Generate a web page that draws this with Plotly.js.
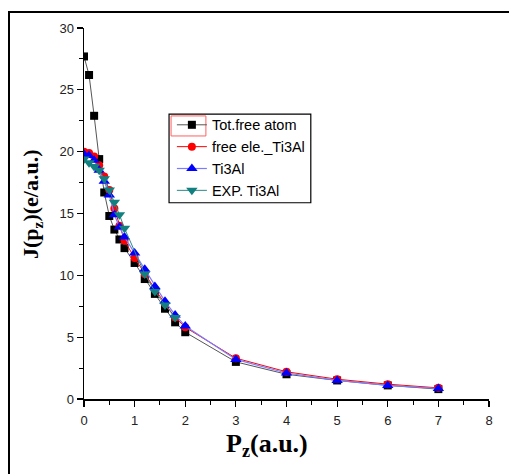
<!DOCTYPE html>
<html>
<head>
<meta charset="utf-8">
<script src="https://cdn.plot.ly/plotly-3.0.1.min.js"></script>
<style>
html,body{margin:0;padding:0;background:#fff;}
#frame{position:absolute;left:8px;top:11px;width:520px;height:480px;border-left:2px solid #000;border-top:2px solid #000;pointer-events:none;z-index:10;}
#chart{position:absolute;left:0;top:0;width:509px;height:474px;}
</style>
</head>
<body>
<div id="chart"></div>
<div id="frame"></div>
<script>
const pz = [0, 0.1, 0.2, 0.3, 0.4, 0.5, 0.6, 0.7, 0.8, 1.0, 1.2, 1.4, 1.6, 1.8, 2.0, 3, 4, 5, 6, 7];
const totFreeAtom = [27.7, 26.2, 22.9, 19.4, 16.7, 14.8, 13.7, 12.9, 12.2, 11.0, 9.7, 8.5, 7.3, 6.2, 5.4, 3.0, 2.0, 1.5, 1.1, 0.8];
const freeEleTi3Al = [20.0, 19.9, 19.6, 18.9, 18.0, 16.9, 15.4, 14.0, 12.8, 11.4, 10.1, 8.9, 7.7, 6.6, 5.8, 3.3, 2.2, 1.6, 1.2, 0.9];
const ti3Al = [19.8, 19.7, 19.3, 18.5, 17.6, 16.5, 14.9, 13.9, 13.1, 11.8, 10.5, 9.1, 7.9, 6.8, 5.9, 3.2, 2.1, 1.5, 1.1, 0.85];
const pzExp = [0, 0.1, 0.2, 0.3, 0.4, 0.5, 0.6, 0.7, 0.8, 1.2, 1.4, 1.6, 1.8];
const expTi3Al = [19.4, 19.1, 18.8, 18.5, 17.8, 16.9, 15.9, 14.9, 13.8, 10.1, 8.7, 7.6, 6.6];
const names = ["Tot.free atom", "free ele._Ti3Al", "Ti3Al", "EXP. Ti3Al"];
const xTitle = '<b>P<sub>z</sub>(a.u.)</b>';
const yTitle = '<b>J(p<sub>z</sub>)(e/a.u.)</b>';

const traces = [
  {x: pz, y: totFreeAtom, name: names[0], mode: 'lines+markers',
   line: {color: '#555555', width: 1}, marker: {symbol: 'square', size: 8, color: '#000000'}},
  {x: pz, y: freeEleTi3Al, name: names[1], mode: 'lines+markers',
   line: {color: '#ff0000', width: 1}, marker: {symbol: 'circle', size: 8, color: '#ff0000'}},
  {x: pz, y: ti3Al, name: names[2], mode: 'lines+markers',
   line: {color: '#7b7bff', width: 1.2}, marker: {symbol: 'triangle-up', size: 10, color: '#0000ff'}},
  {x: pzExp, y: expTi3Al, name: names[3], mode: 'lines+markers',
   line: {color: '#2a8a8a', width: 1}, marker: {symbol: 'triangle-down', size: 10, color: '#138080'}}
];

const tickFont = {family: 'Liberation Sans, Arial, sans-serif', size: 13, color: '#222'};

const layout = {
  width: 509, height: 474,
  margin: {l: 84, r: 20, t: 28, b: 75, pad: 0},
  paper_bgcolor: '#fff', plot_bgcolor: '#fff',
  showlegend: true,
  legend: {x: 0.217, y: 0.782, xanchor: 'left', yanchor: 'top',
    borderwidth: 0, bgcolor: 'rgba(255,255,255,0)',
    font: {family: 'Liberation Sans, Arial, sans-serif', size: 14.5, color: '#000'},
    tracegroupgap: 0, itemwidth: 30},
  xaxis: {range: [0, 8], dtick: 1, tick0: 0, showgrid: false, zeroline: false,
    showline: true, linecolor: '#000', linewidth: 1.5, mirror: false,
    ticks: 'outside', ticklen: 6, tickwidth: 1.2, tickcolor: '#000', tickfont: tickFont,
    ticklabelstandoff: 3,
    minor: {dtick: 0.5, ticks: 'outside', ticklen: 4, tickcolor: '#000', tickwidth: 1}},
  yaxis: {range: [0, 30], dtick: 5, tick0: 0, showgrid: false, zeroline: false,
    showline: true, linecolor: '#000', linewidth: 1.5, mirror: false,
    ticks: 'outside', ticklen: 6, tickwidth: 1.2, tickcolor: '#000', tickfont: tickFont,
    minor: {dtick: 2.5, ticks: 'outside', ticklen: 4, tickcolor: '#000', tickwidth: 1}},
  annotations: [
    {text: xTitle, xref: 'paper', yref: 'paper', x: 0.452, y: -0.123, xanchor: 'center', yanchor: 'middle',
     showarrow: false, font: {family: 'Liberation Serif, Times New Roman, serif', size: 26, color: '#000'}},
    {text: yTitle, xref: 'paper', yref: 'paper', x: -0.128, y: 0.526, xanchor: 'center', yanchor: 'middle',
     textangle: -90, showarrow: false, font: {family: 'Liberation Serif, Times New Roman, serif', size: 22, color: '#000'}}
  ],
  shapes: [
    {type: 'rect', xref: 'paper', yref: 'paper', x0: 0.210, x1: 0.560, y0: 0.529, y1: 0.768,
     line: {color: '#000', width: 1.2}, fillcolor: 'rgba(0,0,0,0)', layer: 'above'},
    {type: 'rect', xref: 'paper', yref: 'paper', x0: 0.215, x1: 0.301, y0: 0.709, y1: 0.763,
     line: {color: '#ff6060', width: 1}, fillcolor: 'rgba(0,0,0,0)', layer: 'above'}
  ]
};

Plotly.newPlot('chart', traces, layout, {displayModeBar: false, staticPlot: true});
</script>
</body>
</html>
